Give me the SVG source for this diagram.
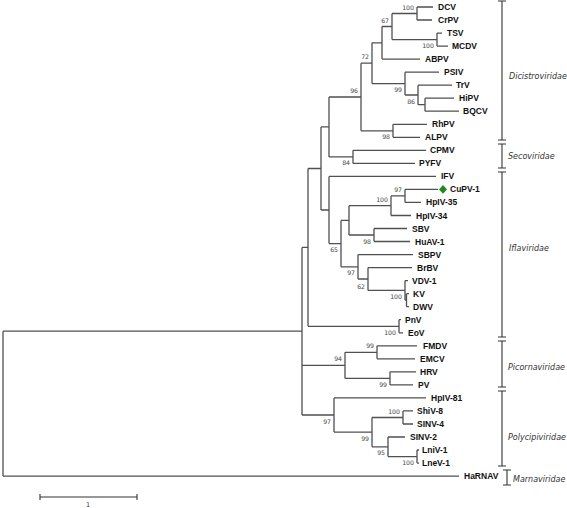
<svg xmlns="http://www.w3.org/2000/svg" width="567" height="508" viewBox="0 0 567 508">
<style>
.br{fill:none;stroke:#505050;stroke-width:1.3}
.bk{fill:none;stroke:#333;stroke-width:1.1}
.lf{font-family:"Liberation Sans",Arial,sans-serif;font-weight:bold;font-size:8.5px;fill:#111}
.bs{font-family:"DejaVu Sans",Verdana,sans-serif;font-size:6.2px;fill:#444;text-anchor:end}
.fam{font-family:"DejaVu Sans",Verdana,sans-serif;font-style:italic;font-size:8px;fill:#333}
.sc{font-family:"DejaVu Sans",Verdana,sans-serif;font-size:6.5px;fill:#333;text-anchor:middle}
</style>
<rect width="567" height="508" fill="#fff"/>
<g id="connectors">
<path class="br" d="M3 331.2V476.1M3 331.2H302M3 476.1H459
M302 247.4V415M302 247.4H308M302 365.3H345M302 415H334
M308 168.5V326.3M308 168.5H321M308 326.3H399
M321 126.9V210M321 126.9H329M321 210H329
M329 97V156.9M329 97H361M329 156.9H353
M361 63.2V130.8M361 63.2H372M361 130.8H393
M372 42.8V83.6M372 42.8H382M372 83.6H405
M382 26.5V59.1M382 26.5H392M382 59.1H420
M392 13.5V39.6M392 13.5H417M392 39.6H437
M417 7V20M417 7H433M417 20H432
M437 33.1V46.1M437 33.1H442M437 46.1H448
M405 72.2V95M405 72.2H439M405 95H418
M418 85.2V104.7M418 85.2H452M418 104.7H425
M425 98.2V111.2M425 98.2H454M425 111.2H459
M393 124.3V137.3M393 124.3H427M393 137.3H420
M353 150.3V163.4M353 150.3H426M353 163.4H415
M329 176.4V243.6M329 176.4H436M329 243.6H341
M341 220.4V266.8M341 220.4H349M341 266.8H358
M349 205.7V235M349 205.7H391M349 235H374
M391 195.9V215.5M391 195.9H405M391 215.5H411
M405 189.4V202.4M405 189.4H438M405 202.4H421
M374 228.5V241.5M374 228.5H407M374 241.5H410
M358 254.6V279M358 254.6H413M358 279H368
M368 267.6V290.4M368 267.6H412M368 290.4H405
M405 280.6V300.2M405 280.6H408M405 300.2H406.5
M406.5 293.7V306.7M406.5 293.7H409M406.5 306.7H409
M399 319.7V332.8M399 319.7H401M399 332.8H403
M345 352.3V378.4M345 352.3H377M345 378.4H390
M377 345.8V358.8M377 345.8H417M377 358.8H415
M390 371.8V384.9M390 371.8H416M390 384.9H413
M334 397.9V432.1M334 397.9H426M334 432.1H372
M372 417.5V446.8M372 417.5H403M372 446.8H388
M403 410.9V424M403 410.9H413M403 424H413
M388 437V456.6M388 437H405M388 456.6H417
M417 450V463.1M417 450H419M417 463.1H419"/>
</g>
<g id="support" opacity="0.99">
<text class="bs" x="414" y="9.5">100</text>
<text class="bs" x="389" y="22.5">67</text>
<text class="bs" x="434" y="48">100</text>
<text class="bs" x="369" y="59.2">72</text>
<text class="bs" x="358" y="93">96</text>
<text class="bs" x="402" y="92">99</text>
<text class="bs" x="415" y="103.5">86</text>
<text class="bs" x="390" y="139.3">98</text>
<text class="bs" x="350" y="165.4">84</text>
<text class="bs" x="402" y="191.9">97</text>
<text class="bs" x="388" y="201.7">100</text>
<text class="bs" x="371" y="243.5">98</text>
<text class="bs" x="338" y="252.1">65</text>
<text class="bs" x="355" y="275.3">97</text>
<text class="bs" x="365" y="288.5">62</text>
<text class="bs" x="402" y="298.9">100</text>
<text class="bs" x="396" y="334.8">100</text>
<text class="bs" x="374" y="348.3">99</text>
<text class="bs" x="342" y="361.3">94</text>
<text class="bs" x="387" y="386.9">99</text>
<text class="bs" x="331" y="423.5">97</text>
<text class="bs" x="400" y="413.5">100</text>
<text class="bs" x="369" y="440.6">99</text>
<text class="bs" x="385" y="455.3">95</text>
<text class="bs" x="414" y="465.1">100</text>
</g>
<g id="leaf-DCV"><text class="lf" x="438" y="10">DCV</text></g>
<g id="leaf-CrPV"><text class="lf" x="438" y="23">CrPV</text></g>
<g id="leaf-TSV"><text class="lf" x="447" y="36.1">TSV</text></g>
<g id="leaf-MCDV"><text class="lf" x="452" y="49.1">MCDV</text></g>
<g id="leaf-ABPV"><text class="lf" x="425" y="62.1">ABPV</text></g>
<g id="leaf-PSIV"><text class="lf" x="444" y="75.2">PSIV</text></g>
<g id="leaf-TrV"><text class="lf" x="456" y="88.2">TrV</text></g>
<g id="leaf-HiPV"><text class="lf" x="459" y="101.2">HiPV</text></g>
<g id="leaf-BQCV"><text class="lf" x="463" y="114.2">BQCV</text></g>
<g id="leaf-RhPV"><text class="lf" x="432" y="127.3">RhPV</text></g>
<g id="leaf-ALPV"><text class="lf" x="425" y="140.3">ALPV</text></g>
<g id="leaf-CPMV"><text class="lf" x="430" y="153.3">CPMV</text></g>
<g id="leaf-PYFV"><text class="lf" x="419" y="166.4">PYFV</text></g>
<g id="leaf-IFV"><text class="lf" x="441" y="179.4">IFV</text></g>
<g id="leaf-CuPV-1"><polygon points="443,185 447,189.4 443,193.8 439,189.4" fill="#1e8b1e"/><text class="lf" x="450" y="192.4">CuPV-1</text></g>
<g id="leaf-HpIV-35"><text class="lf" x="426" y="205.4">HpIV-35</text></g>
<g id="leaf-HpIV-34"><text class="lf" x="416" y="218.5">HpIV-34</text></g>
<g id="leaf-SBV"><text class="lf" x="412" y="231.5">SBV</text></g>
<g id="leaf-HuAV-1"><text class="lf" x="415" y="244.5">HuAV-1</text></g>
<g id="leaf-SBPV"><text class="lf" x="418" y="257.6">SBPV</text></g>
<g id="leaf-BrBV"><text class="lf" x="417" y="270.6">BrBV</text></g>
<g id="leaf-VDV-1"><text class="lf" x="412" y="283.6">VDV-1</text></g>
<g id="leaf-KV"><text class="lf" x="413" y="296.7">KV</text></g>
<g id="leaf-DWV"><text class="lf" x="413" y="309.7">DWV</text></g>
<g id="leaf-PnV"><text class="lf" x="405" y="322.7">PnV</text></g>
<g id="leaf-EoV"><text class="lf" x="408" y="335.8">EoV</text></g>
<g id="leaf-FMDV"><text class="lf" x="423" y="348.8">FMDV</text></g>
<g id="leaf-EMCV"><text class="lf" x="420" y="361.8">EMCV</text></g>
<g id="leaf-HRV"><text class="lf" x="420" y="374.8">HRV</text></g>
<g id="leaf-PV"><text class="lf" x="418" y="387.9">PV</text></g>
<g id="leaf-HpIV-81"><text class="lf" x="431" y="400.9">HpIV-81</text></g>
<g id="leaf-ShiV-8"><text class="lf" x="417" y="413.9">ShiV-8</text></g>
<g id="leaf-SINV-4"><text class="lf" x="417" y="427">SINV-4</text></g>
<g id="leaf-SINV-2"><text class="lf" x="410" y="440">SINV-2</text></g>
<g id="leaf-LniV-1"><text class="lf" x="422" y="453">LniV-1</text></g>
<g id="leaf-LneV-1"><text class="lf" x="422" y="466.1">LneV-1</text></g>
<g id="leaf-HaRNAV"><text class="lf" x="464" y="479.1">HaRNAV</text></g>
<g id="families">
<path class="bk" d="M502 1V140M498 1H506M498 140H506
M502 144V168M498 144H506M498 168H506
M502 172V337M498 172H506M498 337H506
M502 341V387M498 341H506M498 387H506
M502 391V466M498 391H506M498 466H506
M507 470V485M503 470H511M503 485H511"/>
<text class="fam" x="509" y="79">Dicistroviridae</text>
<text class="fam" x="508" y="159">Secoviridae</text>
<text class="fam" x="509" y="251">Iflaviridae</text>
<text class="fam" x="508" y="370">Picornaviridae</text>
<text class="fam" x="508" y="440">Polycipiviridae</text>
<text class="fam" x="513" y="482">Marnaviridae</text>
</g>
<g id="scale">
<path class="bk" d="M40 497H137M40 494V500M137 494V500"/>
<text class="sc" x="88" y="507">1</text>
</g>
</svg>
